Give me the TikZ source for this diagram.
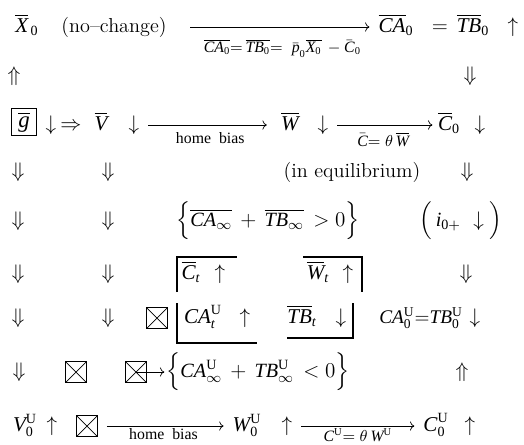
\documentclass[tikz,border=0pt]{standalone}
\usetikzlibrary{arrows.meta, positioning}
\usepackage{amsmath}
\usepackage{fontspec}
\newfontfamily\tms{Liberation Serif}
\newcommand{\mi}[1]{\text{\tms\itshape #1}}
\newcommand{\ru}{\text{\tms U}}
\newcommand{\rz}{\text{\tms 0}}

\tikzset{
  sym/.style={font=\fontsize{13}{15}\selectfont, inner sep=2pt, text height=9pt, text depth=3pt},
  mth/.style={font=\fontsize{12}{14}\selectfont, inner sep=2pt, text height=9pt, text depth=3pt},
  txt/.style={font=\fontsize{11.5}{13}\selectfont, inner sep=2pt},
  lbl/.style={font=\fontsize{9}{10}\selectfont, inner sep=1pt},
  grp/.style={font=\fontsize{11.5}{14}\selectfont, inner sep=1pt},
  link/.style={->, shorten <=3pt, shorten >=3pt},
  gbox/.style={draw, font=\fontsize{13}{15}\selectfont, minimum width=0.5cm, minimum height=0.54cm, inner sep=0pt},
  xbox/.style={draw, minimum size=0.43cm, inner sep=0pt,
    path picture={\draw (path picture bounding box.north west) -- (path picture bounding box.south east)
      (path picture bounding box.north east) -- (path picture bounding box.south west);}},
  bracket/.style={semithick}
}

\begin{document}
\begin{tikzpicture}[x=0.02cm, y=-0.02cm]
    \useasboundingbox[fill=white] (0,0) rectangle (524,444);

    \node[mth] (x0) at (27,27) {$\overline{\mi{X}}_{\,\rz}$};
    \node[txt] (nochg) at (114,27) {(no--change)};
    \coordinate (a1) at (190,27);
    \node[mth] (ca0) at (396,27) {$\overline{\mi{CA}}_{\rz}$};
    \node[mth] (eq0) at (440,27) {$=$};
    \node[mth] (tb0) at (473,27) {$\overline{\mi{TB}}_{\rz}$};
    \node[sym] (up0) at (513,27) {$\uparrow$};
    \draw[link, shorten <=0pt] (a1) -- node[lbl, below=0.2cm] {$\overline{\mi{CA}_{\rz}}{=}\,\overline{\mi{TB}_{\rz}}{=}\;\;\bar{\mi{p}}_{\rz}\overline{\mi{X}_{\rz}}\,-\bar{\mi{C}}_{\rz}$} (ca0);

    \node[sym] (uu2) at (14,76) {$\Uparrow$};
    \node[sym] (dd2) at (470,76) {$\Downarrow$};

    \node[gbox] (g) at (24,122) {$\overline{\mi{g}}$};
    \node[sym] (dg) at (51,125) {$\downarrow$};
    \node[sym] (imp) at (71,125) {$\Rightarrow$};
    \node[mth] (vb) at (101,125) {$\overline{\mi{V}}$};
    \node[sym] (dv) at (134,125) {$\downarrow$};
    \node[mth] (wb) at (290,125) {$\overline{\mi{W}}$};
    \node[sym] (dw) at (323,125) {$\downarrow$};
    \node[mth] (c0) at (449,125) {$\overline{\mi{C}}_{\rz}$};
    \node[sym] (dc) at (480,125) {$\downarrow$};
    \draw[link, shorten >=6pt] (dv) -- node[lbl, below=3pt] {\tms home\ \ bias} (wb);
    \draw[link, shorten >=1pt] (dw) -- node[lbl, below=3pt] {$\bar{\mi{C}}{=}\;\theta\,\overline{\mi{W}}$} (c0);

    \foreach \y in {172,221,274,318} {
        \node[sym] (dl\y) at (18,\y) {$\Downarrow$};
        \node[sym] (dm\y) at (108,\y) {$\Downarrow$};
    }
    \node[sym] (dr172) at (467,172) {$\Downarrow$};
    \node[txt] (equi) at (352,172) {(in equilibrium)};

    \node[grp] (cinf) at (268,221) {$\Big\{\overline{\mi{CA}_\infty}\,+\,\overline{\mi{TB}_\infty}\,>0\Big\}$};
    \node[grp] (ipar) at (461,221) {$\Big(\,\mi{i}_{\rz+}\ \downarrow\Big)$};

    \node[mth] (ct) at (191,274) {$\overline{\mi{C}}_{\mi{t}}$};
    \node[sym] (uct) at (220,274) {$\uparrow$};
    \node[mth] (wt) at (318,274) {$\overline{\mi{W}}_{\mi{t}}$};
    \node[sym] (uwt) at (348,274) {$\uparrow$};
    \node[sym] (dr274) at (466,274) {$\Downarrow$};
    \draw[bracket] (177,292) -- (177,257) -- (237,257);
    \draw[bracket] (303,257) -- (362,257) -- (362,292);

    \node[xbox] (xb7) at (157,318) {};
    \node[mth] (catu) at (203,318) {$\mi{CA}_{\mi{t}}^{\ru}$};
    \node[sym] (ucat) at (245,318) {$\uparrow$};
    \node[mth] (tbt) at (302,318) {$\overline{\mi{TB}}_{\mi{t}}$};
    \node[sym] (dtbt) at (341,318) {$\downarrow$};
    \node[mth, font=\fontsize{11}{13}\selectfont] (cau) at (421,318) {$\mi{CA}_{\rz}^{\ru}{=}\mi{TB}_{\rz}^{\ru}$};
    \node[sym] (dcau) at (475,318) {$\downarrow$};
    \draw[bracket] (177,303) -- (177,343) -- (257,343);
    \draw[bracket] (287,338) -- (353,338) -- (353,303);

    \node[sym] (dl372) at (19,372) {$\Downarrow$};
    \node[xbox] (xb8a) at (76,372) {};
    \node[xbox] (xb8b) at (136,372) {};
    \node[grp] (cinfu) at (258,372) {$\Big\{\mi{CA}_\infty^{\ru}\,+\,\mi{TB}_{\infty}^{\ru}\,<0\Big\}$};
    \node[sym] (uu8) at (462,372) {$\Uparrow$};
    \draw[->] (xb8b.center) -- (cinfu);

    \node[mth] (v0u) at (25,426) {$\mi{V}_{\rz}^{\ru}$};
    \node[sym] (uv) at (52,426) {$\uparrow$};
    \node[xbox] (xb9) at (87,426) {};
    \node[mth] (w0u) at (247,426) {$\mi{W}_{\rz}^{\ru}$};
    \node[sym] (uw) at (287,426) {$\uparrow$};
    \node[mth] (c0u) at (436,426) {$\mi{C}_{\rz}^{\ru}$};
    \node[sym] (uc) at (470,426) {$\uparrow$};
    \draw[link, shorten <=5pt] (xb9) -- node[lbl, below=0pt] {\tms home\ \ bias} (w0u);
    \draw[link] (uw) -- node[lbl, below=0pt] {$\mi{C}^{\ru}{=}\;\theta\,\mi{W}^{\ru}$} (c0u);

\end{tikzpicture}
\end{document}
